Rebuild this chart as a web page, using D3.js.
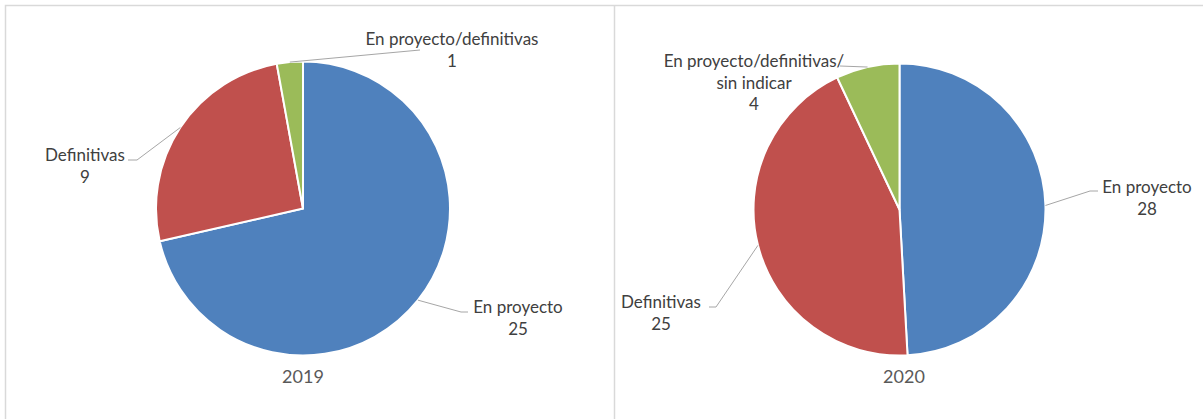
<!DOCTYPE html>
<html>
<head>
<meta charset="utf-8">
<script src="https://cdn.jsdelivr.net/npm/d3@7"></script>
<style>
  body { margin: 0; background: #fff; }
  svg text { font-family: Lato, "Open Sans", sans-serif; fill: #404040; }
</style>
</head>
<body>
<svg id="chart"></svg>
<script>
// Data
const categories2019 = ["En proyecto", "Definitivas", "En proyecto/definitivas"];
const values2019 = [25, 9, 1];
const categories2020 = ["En proyecto", "Definitivas", "En proyecto/definitivas/\nsin indicar"];
const values2020 = [28, 25, 4];
const years = ["2019", "2020"];
const colors = ["#4F81BD", "#C0504D", "#9BBB59"];

// Layout of the two panels and their labels
const panels = [
    {
        year: years[0], cats: categories2019, vals: values2019,
        cx: 303, cy: 208.5, r: 147, yearX: 303,
        labels: [
            { x: 518, y: 313, elbow: [461, 312], end: [468, 312] },
            { x: 85, y: 161, elbow: [137, 160], end: [128, 160] },
            { x: 452, y: 45, elbow: null, end: [420, 50] }
        ]
    },
    {
        year: years[1], cats: categories2020, vals: values2020,
        cx: 899.5, cy: 209.5, r: 146, yearX: 904,
        labels: [
            { x: 1147, y: 193, elbow: [1090, 191], end: [1098, 191] },
            { x: 661, y: 308, elbow: [716, 307], end: [709, 307] },
            { x: 754, y: 67, elbow: null, end: [840, 66] }
        ]
    }
];

const width = 1203, height = 419;
const svg = d3.select("#chart").attr("width", width).attr("height", height);

// panel borders
svg.append("path")
    .attr("d", "M5.5,430 V5.5 H1210 M614.5,5.5 V430")
    .attr("fill", "none")
    .attr("stroke", "#d9d9d9")
    .attr("stroke-width", 1.5);

const pie = d3.pie().sort(null).value(d => d);

panels.forEach(p => {
    const g = svg.append("g").attr("transform", `translate(${p.cx},${p.cy})`);
    const arc = d3.arc().innerRadius(0).outerRadius(p.r);
    const rim = d3.arc().innerRadius(p.r).outerRadius(p.r);
    const arcs = pie(p.vals);

    g.selectAll("path.slice")
        .data(arcs)
        .join("path")
        .attr("class", "slice")
        .attr("d", arc)
        .attr("fill", (d, i) => colors[i])
        .attr("stroke", "#fff")
        .attr("stroke-width", 2)
        .attr("stroke-linejoin", "round");

    // leader lines
    arcs.forEach((a, i) => {
        const L = p.labels[i];
        const c = rim.centroid(a);
        const pts = [[p.cx + c[0], p.cy + c[1]]];
        if (L.elbow) pts.push(L.elbow);
        pts.push(L.end);
        svg.append("path")
            .attr("d", d3.line()(pts))
            .attr("fill", "none")
            .attr("stroke", "#a6a6a6")
            .attr("stroke-width", 1);

        const lines = p.cats[i].split("\n").concat([String(p.vals[i])]);
        const t = svg.append("text")
            .attr("text-anchor", "middle")
            .attr("font-size", 17);
        lines.forEach((s, k) => {
            t.append("tspan")
                .attr("x", L.x)
                .attr("y", L.y + k * 21.5)
                .text(s);
        });
    });

    svg.append("text")
        .attr("x", p.yearX)
        .attr("y", 383)
        .attr("text-anchor", "middle")
        .attr("font-size", 18)
        .style("fill", "#595959")
        .text(p.year);
});
</script>
</body>
</html>
